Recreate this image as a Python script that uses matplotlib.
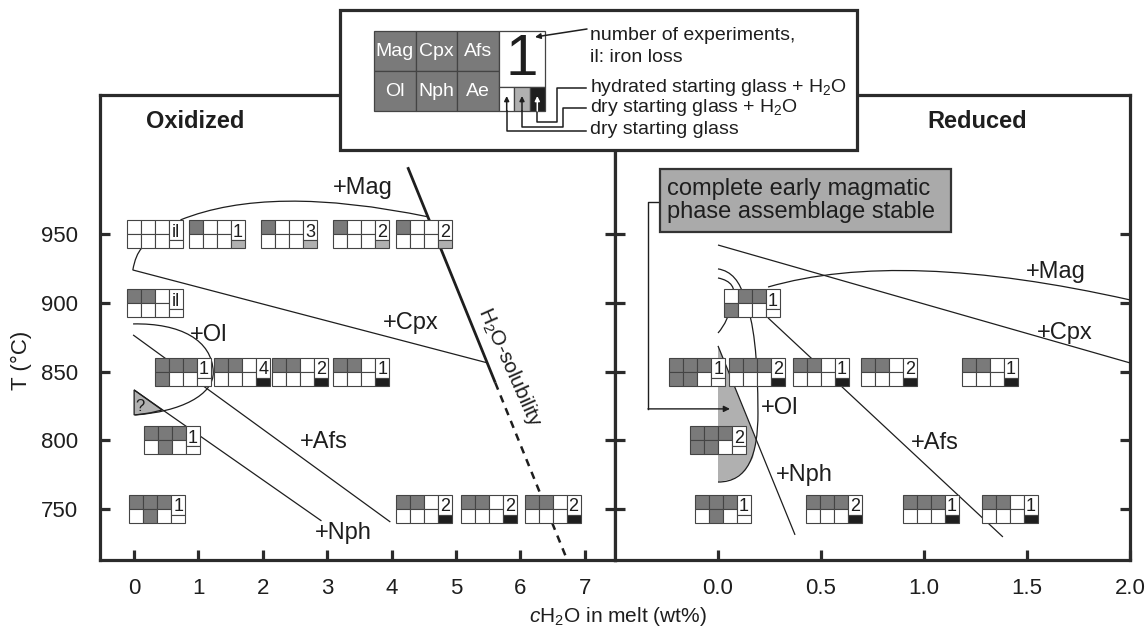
import matplotlib
matplotlib.use('Agg')
import matplotlib.pyplot as plt
import matplotlib.patches as mpatches
import matplotlib.transforms as mtransforms
from matplotlib.path import Path

plt.rcParams['font.family'] = ['Liberation Sans', 'DejaVu Sans']
plt.rcParams['mathtext.fontset'] = 'custom'
plt.rcParams['mathtext.rm'] = 'Liberation Sans'
plt.rcParams['mathtext.it'] = 'Liberation Sans:italic'

INK = '#1e1e1e'
EDGE = '#444444'
DARK = '#7a7a7a'
LIGHT = '#b0b0b0'
BLACK = '#1e1e1e'

# ---- experiments: x = cH2O (wt%), T (degC), phases (Mag Cpx Afs / Ol Nph Ae), number, starting material
ox_x = [0.33, 1.28, 2.41, 3.53, 4.51, 0.33, 0.76, 1.68, 2.58, 3.53, 0.59, 0.36, 4.51, 5.52, 6.50]
ox_T = [950, 950, 950, 950, 950, 900, 850, 850, 850, 850, 800, 750, 750, 750, 750]
ox_phases = ['000000', '100000', '100000', '100000', '100000', '110000', '111100', '110000',
             '110000', '110000', '111010', '111010', '110000', '110000', '110000']
ox_n = ['il', '1', '3', '2', '2', 'il', '1', '4', '2', '1', '1', '1', '2', '2', '2']
ox_start = ['dry', 'wet', 'wet', 'wet', 'wet', 'dry', 'dry', 'hyd', 'hyd', 'hyd', 'dry', 'dry',
            'hyd', 'hyd', 'hyd']

red_x = [0.165, -0.10, 0.19, 0.50, 0.83, 1.32, 0.0, 0.024, 0.563, 1.034, 1.417]
red_T = [900, 850, 850, 850, 850, 850, 800, 750, 750, 750, 750]
red_phases = ['011100', '111110', '111000', '110000', '110000', '110000', '111110', '111010',
              '111000', '111000', '110000']
red_n = ['1', '1', '2', '1', '2', '1', '2', '1', '2', '1', '1']
red_start = ['dry', 'dry', 'hyd', 'hyd', 'hyd', 'hyd', 'dry', 'dry', 'hyd', 'hyd', 'hyd']

# ---- phase boundaries (x, T)
ox_mag = [(0.72, 960.6), (2.11, 986.8), (4.57, 962.8)]
ox_cpx = [(0.12, 940.2), (0.02, 935.0), (-0.02, 924.1), (5.49, 856.4)]
ox_ol = [(-0.016, 884.8), (0.715, 885.5), (1.213, 873.1), (1.229, 849.8),
         (1.244, 833.1), (0.715, 820.7), (0.016, 818.5)]
ox_afs = [(-0.016, 876.8), (3.98, 740.5)]
ox_nph = [(0.0, 836.7), (2.91, 741.3)]
ox_unknown = [(0.0, 836.7), (0.435, 822.1), (0.25, 820.0), (0.016, 818.5), (0.0, 818.5)]
sol_solid = [(4.25, 999.0), (5.61, 842.0)]
sol_dash = [(5.61, 842.0), (6.70, 716.0)]

red_mag = [(0.243, 911.7), (0.888, 939.8), (2.0, 902.3)]
red_cpx = [(0.0, 942.3), (2.0, 856.4)]
red_afs = [(0.243, 889.2), (1.383, 729.6)]
red_nph = [(0.0, 868.8), (0.374, 731.1)]
red_ol = [(0.0, 924.9), (0.097, 922.7), (0.131, 902.3), (0.194, 880.4), (0.194, 819.9),
          (0.194, 789.3), (0.146, 769.6), (0.0, 769.6)]
red_arc = [(0.0, 918.3), (0.097, 915.4), (0.073, 902.3), (0.049, 886.2), (0.0, 878.2)]
red_field = [(0.0, 868.8), (0.184, 800.3), (0.170, 787.2), (0.131, 777.7), (0.073, 771.9),
             (0.0, 769.6)]
red_pointer = [(-0.282, 973.7), (-0.340, 973.7), (-0.340, 822.9), (0.058, 822.9)]

ox_labels = [('+Mag', 3.56, 983.9), ('+Cpx', 4.29, 885.5), ('+Ol', 1.15, 876.8),
             ('+Afs', 2.95, 798.8), ('+Nph', 3.25, 732.5)]
red_labels = [('+Mag', 1.641, 922.7), ('+Cpx', 1.684, 878.2), ('+Ol', 0.301, 823.6),
              ('+Afs', 1.053, 798.1), ('+Nph', 0.417, 774.8)]

fig = plt.figure(figsize=(11.46, 6.30), dpi=100)
ax1 = fig.add_axes([100 / 1146, 70 / 630, 515 / 1146, 465 / 630])
ax2 = fig.add_axes([615 / 1146, 70 / 630, 515 / 1146, 465 / 630])

ax1.set_xlim(-0.53, 7.47)
ax2.set_xlim(-0.5, 2.0)
for ax in (ax1, ax2):
    ax.set_ylim(712.8, 1051.6)
    for s in ax.spines.values():
        s.set_linewidth(2.3)
        s.set_color('#2b2b2b')
    ax.tick_params(axis='both', direction='in', length=7, width=2.3, color='#2b2b2b',
                   labelsize=16, labelcolor=INK)
    ax.tick_params(axis='y', left=True, right=True, pad=16)
    ax.tick_params(axis='x', pad=13)
    ax.set_yticks([750, 800, 850, 900, 950])
ax2.tick_params(axis='y', labelleft=False)
ax1.set_xticks(range(8))
ax2.set_xticks([0.0, 0.5, 1.0, 1.5, 2.0])
ax2.set_xticklabels(['0.0', '0.5', '1.0', '1.5', '2.0'])

strip_col = {'dry': 'white', 'wet': LIGHT, 'hyd': BLACK}
CW, CH = 14, 14


def glyph(ax, x, T, phases, n, start):
    tr = (mtransforms.Affine2D().scale(1 / fig.dpi) + fig.dpi_scale_trans
          + mtransforms.ScaledTranslation(x, T, ax.transData))
    for k, f in enumerate(phases):
        c, r = k % 3, k // 3
        ax.add_patch(mpatches.Rectangle((-2 * CW + c * CW, -r * CH), CW, CH, transform=tr,
                                        fc=DARK if f == '1' else 'white', ec=EDGE, lw=0.8,
                                        zorder=6, clip_on=False))
    ax.add_patch(mpatches.Rectangle((CW, -6), CW, 20, transform=tr, fc='white', ec=EDGE,
                                    lw=0.8, zorder=6, clip_on=False))
    ax.add_patch(mpatches.Rectangle((CW, -CH), CW, 8, transform=tr, fc=strip_col[start],
                                    ec=EDGE, lw=0.8, zorder=6, clip_on=False))
    ax.text(1.5 * CW, -2.5, n, transform=tr, ha='center', va='baseline', fontsize=13,
            color=INK, zorder=7, clip_on=False)


def curve(ax, pts, codes, **kw):
    ax.add_patch(mpatches.PathPatch(Path(pts, codes), fc='none', ec=INK, lw=kw.get('lw', 0.9),
                                    ls=kw.get('ls', '-'), zorder=3))


M, C3, C4, L = Path.MOVETO, Path.CURVE3, Path.CURVE4, Path.LINETO

# Oxidized
ax1.add_patch(mpatches.Polygon(ox_unknown, closed=True, fc=LIGHT, ec=INK, lw=0.9, zorder=2))
ax1.text(0.09, 824.3, '?', fontsize=12, ha='center', va='center', color=INK, zorder=4)
curve(ax1, ox_mag, [M, C3, C3])
curve(ax1, ox_cpx, [M, C3, C3, L])
curve(ax1, ox_ol, [M, C4, C4, C4, C4, C4, C4])
curve(ax1, ox_afs, [M, L])
curve(ax1, ox_nph, [M, L])
curve(ax1, sol_solid, [M, L], lw=2.0)
ax1.plot(*zip(*sol_dash), color=INK, lw=1.8, ls=(0, (3, 2.5)), zorder=3)
ax1.text(5.83, 853.5, r'H$_2$O-solubility', rotation=-66, rotation_mode='anchor',
         ha='center', va='center', fontsize=15, color=INK, zorder=4)
for t, x, y in ox_labels:
    ax1.text(x, y, t, fontsize=17, ha='center', va='center', color=INK, zorder=4)
for i in range(len(ox_x)):
    glyph(ax1, ox_x[i], ox_T[i], ox_phases[i], ox_n[i], ox_start[i])
ax1.text(0.184, 0.942, 'Oxidized', transform=ax1.transAxes, fontsize=17, fontweight='bold',
         ha='center', va='center', color=INK)

# Reduced
ax2.add_patch(mpatches.Polygon(red_field, closed=True, fc=LIGHT, ec='none', zorder=2))
curve(ax2, red_mag, [M, C3, C3])
curve(ax2, red_cpx, [M, L])
curve(ax2, red_afs, [M, L])
curve(ax2, red_nph, [M, L])
curve(ax2, red_ol, [M, C3, C3, C3, C3, C4, C4, C4])
curve(ax2, red_arc, [M, C3, C3, C3, C3])
px, py = zip(*red_pointer[:3])
ax2.plot(px, py, color=INK, lw=1.0, zorder=3)
ax2.annotate('', xy=red_pointer[3], xytext=red_pointer[2],
             arrowprops=dict(arrowstyle='-|>', color=INK, lw=1.0, mutation_scale=9,
                             shrinkA=0, shrinkB=0), zorder=3)
ax2.add_patch(mpatches.Rectangle((-0.282, 951.8), 1.413, 45.9, fc='#aaaaaa', ec='#333333',
                                 lw=1.6, zorder=5))
ax2.text(-0.248, 974.7, 'complete early magmatic\nphase assemblage stable', fontsize=17,
         ha='left', va='center', linespacing=1.05, color=INK, zorder=6)
for t, x, y in red_labels:
    ax2.text(x, y, t, fontsize=17, ha='center', va='center', color=INK, zorder=4)
for i in range(len(red_x)):
    glyph(ax2, red_x[i], red_T[i], red_phases[i], red_n[i], red_start[i])
ax2.text(0.703, 0.942, 'Reduced', transform=ax2.transAxes, fontsize=17, fontweight='bold',
         ha='center', va='center', color=INK)

fig.text(21 / 1146, 1 - 360 / 630, 'T (°C)', rotation=90, fontsize=16, ha='center',
         va='center', color=INK)
fig.text(618 / 1146, 1 - 617 / 630, r'$c$H$_2$O in melt (wt%)', fontsize=15, ha='center',
         va='center', color=INK)

# ---- key (pixel coordinates)
lax = fig.add_axes([0, 0, 1, 1], zorder=10)
lax.set_xlim(0, 1146)
lax.set_ylim(630, 0)
lax.axis('off')
lax.patch.set_visible(False)
lax.add_patch(mpatches.Rectangle((340, 10), 517, 140, fc='white', ec='#2b2b2b', lw=2.3))
key_names = ['Mag', 'Cpx', 'Afs', 'Ol', 'Nph', 'Ae']
for k, name in enumerate(key_names):
    c, r = k % 3, k // 3
    x0, y0 = 374 + c * 41.7, 31 + r * 40
    lax.add_patch(mpatches.Rectangle((x0, y0), 41.7, 40, fc=DARK, ec=EDGE, lw=0.9))
    lax.text(x0 + 20.8, y0 + 20, name, color='white', fontsize=14, ha='center', va='center')
lax.add_patch(mpatches.Rectangle((499, 31), 46, 56, fc='white', ec=EDGE, lw=0.9))
lax.text(522, 60, '1', fontsize=42, ha='center', va='center', color=INK)
for j, st in enumerate(['dry', 'wet', 'hyd']):
    lax.add_patch(mpatches.Rectangle((499 + j * 15.33, 87), 15.33, 24, fc=strip_col[st],
                                     ec=EDGE, lw=0.9))

key_text = [('number of experiments,', 36), ('il: iron loss', 58),
            (r'hydrated starting glass + H$_2$O', 87), (r'dry starting glass + H$_2$O', 108),
            ('dry starting glass', 130)]
for t, y in key_text:
    lax.text(590, y, t, fontsize=14, ha='left', va='center', color=INK)

arw = dict(arrowstyle='-|>', color=INK, lw=1.1, mutation_scale=8, shrinkA=0, shrinkB=0)
lax.annotate('', xy=(535, 37), xytext=(587, 29), arrowprops=arw)
paths = [[(586, 88), (557, 88), (557, 122), (537.3, 122), (537.3, 111)],
         [(586, 108), (563, 108), (563, 127), (522, 127), (522, 111)],
         [(586, 131), (506.7, 131), (506.7, 111)]]
for pth in paths:
    xs, ys = zip(*pth)
    lax.plot(xs, ys, color=INK, lw=1.1)
for xa in (506.7, 522, 537.3):
    col = 'white' if xa > 530 else INK
    lax.annotate('', xy=(xa, 96), xytext=(xa, 111),
                 arrowprops=dict(arw, color=col, mutation_scale=7))

fig.savefig('out.png', dpi=100)
